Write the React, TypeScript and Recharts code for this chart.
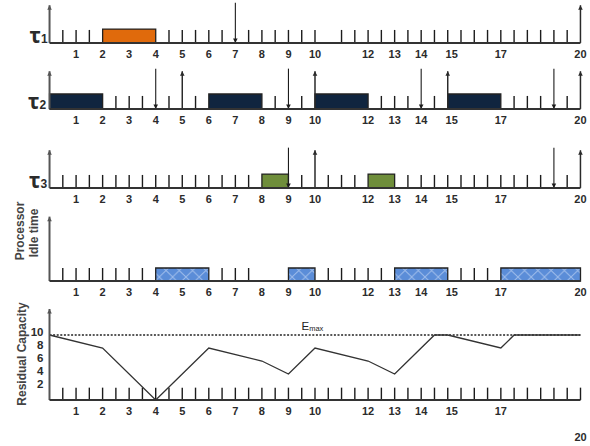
import React from 'react';
import { ComposedChart, XAxis, YAxis, ReferenceLine, ReferenceArea, Line } from 'recharts';

// time axis labels shown under every row
const timeLabels = [1, 2, 3, 4, 5, 6, 7, 8, 9, 10, 12, 13, 14, 15, 17, 20];

// task τ1
const tau1Jobs = [[2, 4]];
const tau1Releases = [0, 20];
const tau1Deadlines = [7];
const tau1Marks = [0.5, 1, 1.5, 4.5, 5, 5.5, 6, 6.5, 7.5, 8, 8.5, 9, 9.5, 10, 11, 11.5, 12, 12.5, 13, 13.5, 14, 14.5, 15, 15.5, 16, 16.5, 17, 17.5, 18, 18.5, 19, 19.5];

// task τ2
const tau2Jobs = [[0, 2], [6, 8], [10, 12], [15, 17]];
const tau2Releases = [0, 5, 10, 15, 20];
const tau2Deadlines = [4, 9, 14, 19];
const tau2Marks = [2.5, 3, 3.5, 4.5, 5.5, 8.5, 9.5, 12.5, 13, 13.5, 14.5, 17.5, 18, 18.5, 19.5];

// task τ3
const tau3Jobs = [[8, 9], [12, 13]];
const tau3Releases = [0, 10, 20];
const tau3Deadlines = [9, 19];
const tau3Marks = [0.5, 1, 1.5, 2, 2.5, 3, 3.5, 4, 4.5, 5, 5.5, 6, 6.5, 7, 7.5, 9.5, 10.5, 11, 11.5, 13.5, 14, 14.5, 15, 15.5, 16, 16.5, 17, 17.5, 18, 18.5, 19.5];

// processor idle time
const idleSlots = [[4, 6], [9, 10], [13, 15], [17, 20]];
const idleReleases = [0];
const idleMarks = [0.5, 1, 1.5, 2, 2.5, 3, 3.5, 6.5, 7, 7.5, 10.5, 11, 11.5, 12, 12.5, 15.5, 16, 16.5];

// residual capacity
const capacityTimes = [0, 2, 4, 6, 8, 9, 10, 12, 13, 14.5, 15, 17, 17.5, 20];
const capacityValues = [10, 8, 0, 8, 6, 4, 8, 6, 4, 10, 10, 8, 10, 10];
const capacityTicks = [2, 4, 6, 8, 10];
const capacityMax = 10;
const capacityReleases = [0];
const capacityMarks = [0.5, 1, 1.5, 2, 2.5, 3, 3.5, 4, 4.5, 5, 5.5, 6, 6.5, 7, 7.5, 8, 8.5, 9, 9.5, 10, 10.5, 11, 11.5, 12, 12.5, 13, 13.5, 14, 14.5, 15, 15.5, 16, 16.5, 17, 17.5, 18, 18.5, 19, 19.5, 20];
const capacityLowLabels = [20];

const capacityData = capacityTimes.map((t, i) => ({ t, v: capacityValues[i] }));

const FONT = '"Liberation Sans", Arial, sans-serif';
const W = 590;
const M_TOP = 4;
const LEFT = 49.5;

const arrowShape = (stroke: string, width: number) => (p: any) => {
  const { x1, y1, x2, y2 } = p;
  const dir = y2 < y1 ? -1 : 1;
  return (
    <g>
      <line x1={x1} y1={y1} x2={x2} y2={y2} stroke={stroke} strokeWidth={width} />
      <path d={`M${x2 - 2.3},${y2 - dir * 4.5} L${x2},${y2} L${x2 + 2.3},${y2 - dir * 4.5} Z`} fill={stroke} />
    </g>
  );
};

const renderMarks = (marks: number[], h: number) =>
  marks.map((x) => (
    <ReferenceLine key={`m${x}`} segment={[{ x, y: 0 }, { x, y: h }]} stroke="#1c1c1c" strokeWidth={1.4} ifOverflow="visible" />
  ));

const renderUp = (xs: number[], h: number, stroke = '#2a2a2a', width = 1.5) =>
  xs.map((x) => (
    <ReferenceLine key={`u${x}`} segment={[{ x, y: 0 }, { x, y: h }]} shape={arrowShape(x === 0 ? '#555' : stroke, x === 0 ? 2 : width)} ifOverflow="visible" />
  ));

const renderDown = (xs: number[], h: number) =>
  xs.map((x) => (
    <ReferenceLine key={`d${x}`} segment={[{ x, y: h }, { x, y: 0 }]} shape={arrowShape('#1c1c1c', 1.1)} ifOverflow="visible" />
  ));

const renderJobs = (jobs: number[][], h: number, fill: string) =>
  jobs.map(([a, b]) => (
    <ReferenceArea key={`j${a}`} x1={a} x2={b} y1={0} y2={h} fill={fill} fillOpacity={1} stroke="#222" strokeWidth={1.3} ifOverflow="visible" />
  ));

const xTick = (low: number[]) => (p: any) => (
  <text
    x={p.x + (p.payload.value === 15 ? 4 : 0)}
    y={p.y + (low.includes(p.payload.value) ? 41 : 15)}
    textAnchor="middle"
    fontSize={11}
    fontWeight="bold"
    fontFamily={FONT}
    fill="#2b2b2b"
  >
    {p.payload.value}
  </text>
);

const yTick = (p: any) => (
  <text x={p.x} y={p.y + 0.5} textAnchor="end" fontSize={11.5} fontWeight="bold" fontFamily={FONT} fill="#2b2b2b">
    {p.payload.value}
  </text>
);

interface RowProps {
  baseline: number;
  yMax: number;
  unit: number;
  axisH?: number;
  yWidth?: number;
  low?: number[];
  data?: any[];
  yAxis?: React.ReactNode;
  children?: React.ReactNode;
}

function Row({ baseline, yMax, unit, axisH = 30, yWidth = 0, low = [], data, yAxis, children }: RowProps) {
  const plotH = yMax * unit;
  return (
    <div style={{ position: 'absolute', left: 0, top: baseline - plotH - M_TOP }}>
      <ComposedChart
        width={W}
        height={M_TOP + plotH + axisH}
        data={data}
        margin={{ top: M_TOP, right: 9.5, bottom: 0, left: LEFT - yWidth }}
      >
        <XAxis
          type="number"
          dataKey="t"
          domain={[0, 20]}
          ticks={timeLabels}
          interval={0}
          tickLine={false}
          tickSize={0}
          tickMargin={0}
          axisLine={{ stroke: '#333', strokeWidth: 2 }}
          height={axisH}
          tick={xTick(low)}
          allowDataOverflow
        />
        {yAxis ?? <YAxis type="number" domain={[0, yMax]} hide allowDataOverflow />}
        {children}
      </ComposedChart>
    </div>
  );
}

const UNIT = 13;
const MARK_H = 1;
const BAR_H = 1.07;
const UP_H = 2.9;
const DOWN_H = 3.1;

function TauLabel({ x, y, n }: { x: number; y: number; n: number }) {
  return (
    <text x={x} y={y} fontFamily='"Noto Sans", sans-serif' fontWeight="bold" fill="#2b2b2b">
      <tspan fontSize={21}>τ</tspan>
      <tspan fontSize={12} dy={0} fontFamily={FONT}>{n}</tspan>
    </text>
  );
}

export default function App() {
  return (
    <div style={{ position: 'absolute', left: 0, top: 0, width: W, height: 446, background: '#fff', overflow: 'hidden' }}>
      <svg width={W} height={446} style={{ position: 'absolute', left: 0, top: 0 }}>
        <defs>
          <pattern id="idleHatch" width={13.28} height={13} patternUnits="userSpaceOnUse">
            <rect width={13.28} height={13} fill="#5b8dd8" />
            <path d="M0,0 L13.28,13 M13.28,0 L0,13" stroke="#9cbbea" strokeWidth={1} />
          </pattern>
        </defs>
      </svg>

      <Row baseline={42.7} yMax={3.15} unit={UNIT}>
        {renderMarks(tau1Marks, MARK_H)}
        {renderJobs(tau1Jobs, BAR_H, '#e06a0c')}
        {renderUp(tau1Releases, UP_H)}
        {renderDown(tau1Deadlines, DOWN_H)}
      </Row>

      <Row baseline={109.3} yMax={3.15} unit={UNIT}>
        {renderMarks(tau2Marks, MARK_H)}
        {renderJobs(tau2Jobs, BAR_H + 0.08, '#10253f')}
        {renderUp(tau2Releases, UP_H)}
        {renderDown(tau2Deadlines, DOWN_H)}
      </Row>

      <Row baseline={188.3} yMax={3.15} unit={UNIT}>
        {renderMarks(tau3Marks, MARK_H)}
        {renderJobs(tau3Jobs, BAR_H, '#6f8e3b')}
        {renderUp(tau3Releases, UP_H)}
        {renderDown(tau3Deadlines, DOWN_H)}
      </Row>

      <Row baseline={281} yMax={5} unit={UNIT}>
        {renderMarks(idleMarks, MARK_H)}
        {renderJobs(idleSlots, 1, 'url(#idleHatch)')}
        {renderUp(idleReleases, 4.95)}
      </Row>

      <Row
        baseline={400}
        yMax={14}
        unit={6.5}
        axisH={46}
        yWidth={20}
        low={capacityLowLabels}
        data={capacityData}
        yAxis={
          <YAxis
            type="number"
            domain={[0, 14]}
            ticks={capacityTicks}
            interval={0}
            width={20}
            axisLine={false}
            tickLine={false}
            tickSize={0}
            tickMargin={6}
            tick={yTick}
            allowDataOverflow
          />
        }
      >
        {renderMarks(capacityMarks, 1.9)}
        <ReferenceLine y={capacityMax} stroke="#222" strokeWidth={1.4} strokeDasharray="2 1.6" ifOverflow="visible" />
        <Line type="linear" dataKey="v" stroke="#333" strokeWidth={1.3} dot={false} isAnimationActive={false} />
        {renderUp(capacityReleases, 14)}
      </Row>

      <svg width={W} height={446} style={{ position: 'absolute', left: 0, top: 0, pointerEvents: 'none' }}>
        <TauLabel x={29.5} y={42.7} n={1} />
        <TauLabel x={28} y={109.3} n={2} />
        <TauLabel x={29} y={188} n={3} />
        <g fontFamily={FONT} fontWeight="bold" fontSize={12} fill="#444" textAnchor="middle" dominantBaseline="central">
          <text transform="translate(20,231) rotate(-90)">Processor</text>
          <text transform="translate(33.5,233) rotate(-90)">Idle time</text>
          <text transform="translate(21.5,354) rotate(-90)">Residual Capacity</text>
        </g>
        <text x={301.5} y={330} fontFamily={FONT} fill="#222">
          <tspan fontSize={11.5}>E</tspan>
          <tspan fontSize={7.5} dy={1}>max</tspan>
        </text>
      </svg>
    </div>
  );
}
